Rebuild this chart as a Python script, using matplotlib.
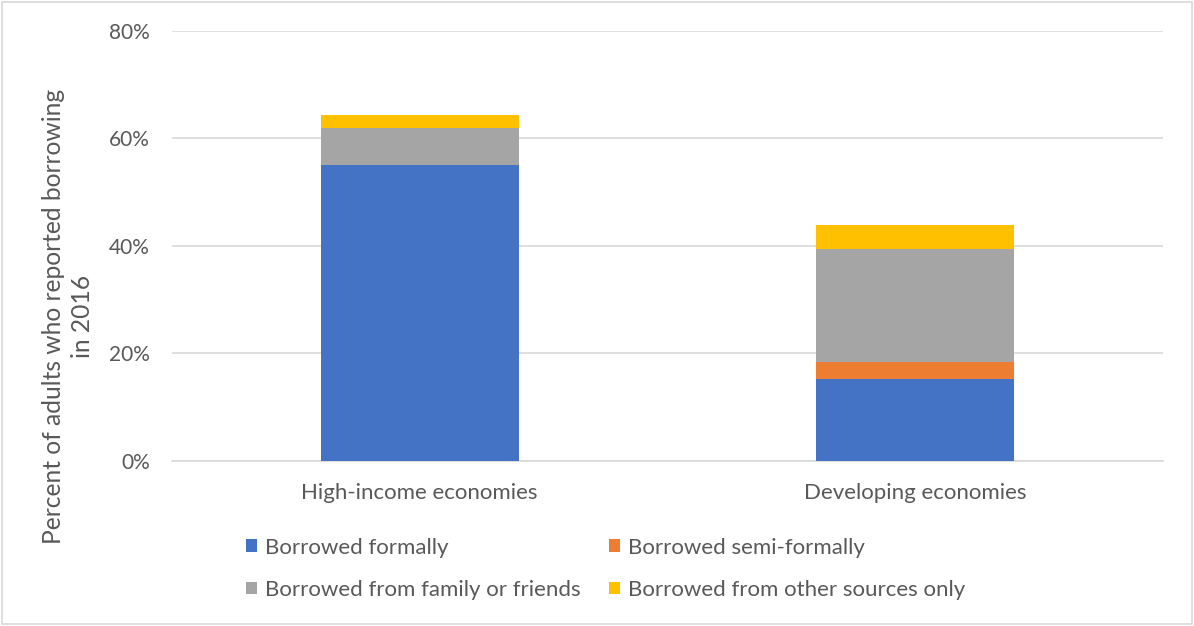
import numpy as np
import matplotlib.pyplot as plt
from matplotlib.patches import Rectangle
from matplotlib.ticker import FuncFormatter

plt.rcParams['font.family'] = ['Lato', 'DejaVu Sans']

groups = ["High-income economies", "Developing economies"]
series = ["Borrowed formally", "Borrowed semi-formally",
          "Borrowed from family or friends", "Borrowed from other sources only"]
formal = [55.0, 15.2]
semi_formal = [0.0, 3.2]
family = [6.95, 21.1]
other = [2.35, 4.35]
colors = ["#4472c4", "#ed7d31", "#a5a5a5", "#ffc000"]

text_col = "#595959"
grid_col = "#d9d9d9"

fig = plt.figure(figsize=(11.94, 6.26), dpi=100)
ax = fig.add_axes([0.144, 0.2636, 0.830, 0.687])

x = np.arange(len(groups))
bottom = np.zeros(len(groups))
bars = []
for vals, name, c in zip([formal, semi_formal, family, other], series, colors):
    b = ax.bar(x, vals, width=0.40, bottom=bottom, color=c, label=name, zorder=3)
    bars.append(b)
    bottom += np.array(vals)

ax.set_xlim(-0.5, 1.5)
ax.set_ylim(0, 80)
ax.set_yticks([0, 20, 40, 60, 80])
ax.yaxis.set_major_formatter(FuncFormatter(lambda v, p: f"{v:.0f}%"))
ax.set_xticks(x)
ax.set_xticklabels(groups)
ax.grid(axis='y', color=grid_col, linewidth=1.2, zorder=0)
for s in ['top', 'right', 'left']:
    ax.spines[s].set_visible(False)
ax.spines['bottom'].set_color(grid_col)
ax.spines['bottom'].set_linewidth(1.2)
ax.tick_params(axis='both', length=0, colors=text_col)
ax.tick_params(axis='y', labelsize=15, pad=16)
ax.tick_params(axis='x', labelsize=16, pad=16)
ax.set_ylabel("Percent of adults who reported borrowing\nin 2016",
              fontsize=17.7, color=text_col, linespacing=1.3)
ax.yaxis.set_label_coords(-0.079, 0.337)

handles = [bars[0], bars[2], bars[1], bars[3]]
labels = [series[0], series[2], series[1], series[3]]
fig.legend(handles, labels, ncol=2, loc='upper left', bbox_to_anchor=(0.189, 0.173),
           frameon=False, fontsize=16, labelcolor=text_col,
           handlelength=0.5, handleheight=0.5, handletextpad=0.35,
           columnspacing=1.3, labelspacing=1.0)

fig.patches.append(Rectangle((0.002, 0.003), 0.996, 0.994, transform=fig.transFigure,
                             fill=False, edgecolor=grid_col, linewidth=1.2))

fig.savefig("out.png", dpi=100)
